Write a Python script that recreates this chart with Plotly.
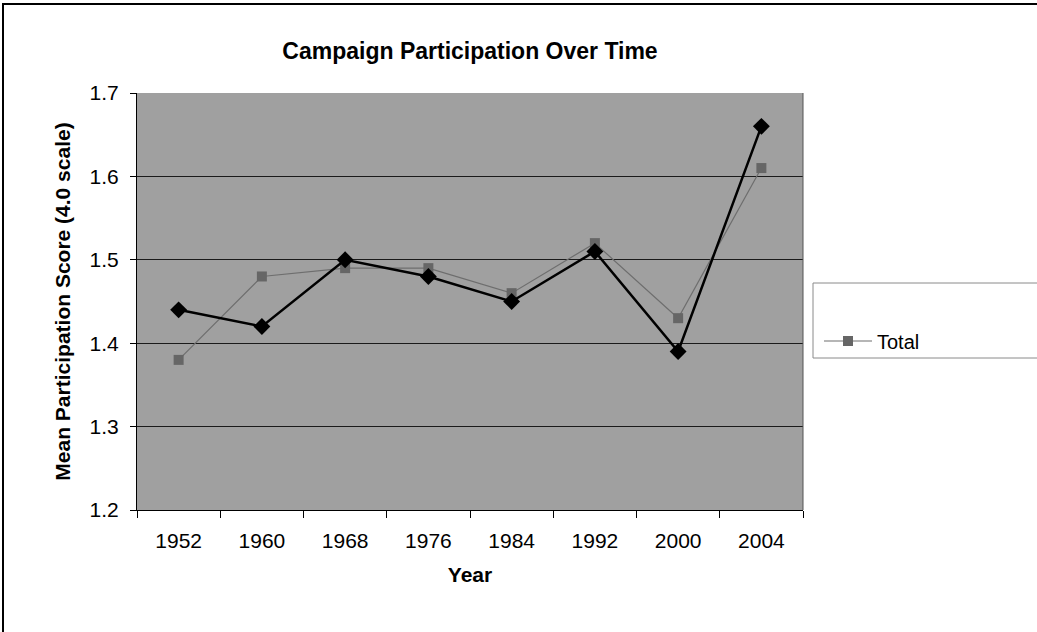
import plotly.graph_objects as go

years = ["1952", "1960", "1968", "1976", "1984", "1992", "2000", "2004"]
series_a = [1.44, 1.42, 1.50, 1.48, 1.45, 1.51, 1.39, 1.66]
total = [1.38, 1.48, 1.49, 1.49, 1.46, 1.52, 1.43, 1.61]
y_ticks = [1.2, 1.3, 1.4, 1.5, 1.6, 1.7]

FONT = "Liberation Sans, Arial, sans-serif"

fig = go.Figure()
fig.add_trace(go.Scatter(
    x=years, y=total, name="Total", mode="lines+markers",
    line=dict(color="#6e6e6e", width=1.2),
    marker=dict(symbol="square", size=10, color="#666666"),
))
fig.add_trace(go.Scatter(
    x=years, y=series_a, name="", mode="lines+markers", showlegend=False,
    line=dict(color="black", width=2.5),
    marker=dict(symbol="diamond", size=13, color="black"),
))

W, H = 1037, 632
L, R, T, B = 137, 803, 93, 510
pw, ph = R - L, B - T

def px(x):
    return (x - L) / pw

def py(y):
    return (B - y) / ph

fig.update_layout(
    width=W, height=H,
    margin=dict(l=L, r=W - R, t=T, b=H - B),
    paper_bgcolor="white",
    plot_bgcolor="#a0a0a0",
    font=dict(family=FONT, color="black"),
    title=dict(text="<b>Campaign Participation Over Time</b>", x=px(470), xanchor="center",
               y=1 - 51 / H, yanchor="middle", xref="paper", yref="container",
               font=dict(size=23)),
    showlegend=True,
    legend=dict(x=px(819), y=py(341), xanchor="left", yanchor="middle",
                bgcolor="rgba(0,0,0,0)", borderwidth=0,
                font=dict(size=20), itemwidth=48),
    xaxis=dict(
        type="category", categoryorder="array", categoryarray=years,
        range=[-0.5, 7.5], showgrid=False,
        showline=True, linecolor="black", linewidth=1, mirror=False,
        ticks="outside", tickson="boundaries", ticklen=7, tickcolor="black",
        tickfont=dict(size=21), ticklabelstandoff=12,
        title=dict(text="<b>Year</b>", font=dict(size=21), standoff=16),
    ),
    yaxis=dict(
        range=[1.2, 1.7], tickvals=y_ticks, ticktext=[f"{v:.1f}" for v in y_ticks],
        showgrid=True, gridcolor="#1a1a1a", gridwidth=1,
        showline=True, linecolor="black", linewidth=1,
        ticks="outside", ticklen=6, tickcolor="black",
        tickfont=dict(size=21), zeroline=False, ticklabelstandoff=7,
        title=dict(text="<b>Mean Participation Score (4.0 scale)</b>", font=dict(size=21), standoff=13),
    ),
    shapes=[
        dict(type="rect", xref="paper", yref="paper",
             x0=px(3), x1=px(1045), y0=py(4), y1=py(640),
             line=dict(color="black", width=2), fillcolor="rgba(0,0,0,0)", layer="below"),
        dict(type="line", xref="paper", yref="paper", x0=1, x1=1, y0=0, y1=1,
             line=dict(color="#555", width=1)),
        dict(type="rect", xref="paper", yref="paper",
             x0=px(813), x1=px(1045), y0=py(283), y1=py(358),
             line=dict(color="#8a8a8a", width=1), fillcolor="white", layer="below"),
    ],
)

fig.write_html("out.html", config={"displayModeBar": False},
               post_script="document.body.style.margin='0px';")
